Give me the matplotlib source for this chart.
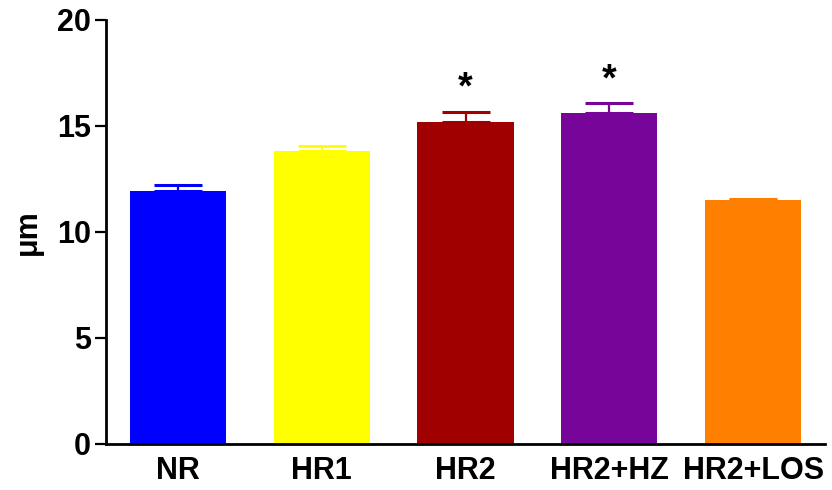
import matplotlib
matplotlib.use("Agg")
import matplotlib.pyplot as plt

plt.rcParams['font.family'] = ['Liberation Sans', 'DejaVu Sans']
plt.rcParams['font.weight'] = 'bold'

groups = ["NR", "HR1", "HR2", "HR2+HZ", "HR2+LOS"]
means = [11.92, 13.82, 15.17, 15.61, 11.49]
sem = [0.30, 0.24, 0.48, 0.46, 0.05]
colors = ["#0000ff", "#ffff00", "#a00000", "#770599", "#ff8000"]
signif = ["", "", "*", "*", ""]

fig = plt.figure(figsize=(8.32, 4.9), dpi=100)
ax = fig.add_axes([0.1274, 0.0939, 0.8642, 0.8653])

x = list(range(len(groups)))
ax.bar(x, means, width=0.67, color=colors, zorder=2)

# 上側だけのエラーバー
for xi, m, e, c in zip(x, means, sem, colors):
    ax.errorbar(xi, m, yerr=[[0], [e]], color=c, capsize=17.5, elinewidth=1.6,
                capthick=2.2, zorder=1)

for xi, m, e, s in zip(x, means, sem, signif):
    if s:
        ax.text(xi, m + e + 0.25, s, ha="center", va="bottom", fontsize=27,
                fontweight="bold")

ax.set_xlim(-0.5, 4.5)
ax.set_ylim(0, 20)
ax.set_yticks([0, 5, 10, 15, 20])
ax.set_xticks(x)
ax.set_xticklabels(groups)
ax.tick_params(axis="x", length=0, pad=9, labelsize=22)
ax.tick_params(axis="y", length=8, width=1.6, labelsize=22, pad=3)
ax.set_ylabel("μm", fontsize=22, fontweight="bold", labelpad=10)

for side in ["top", "right"]:
    ax.spines[side].set_visible(False)
for side in ["left", "bottom"]:
    ax.spines[side].set_linewidth(2)

fig.savefig("out.png", dpi=100)
